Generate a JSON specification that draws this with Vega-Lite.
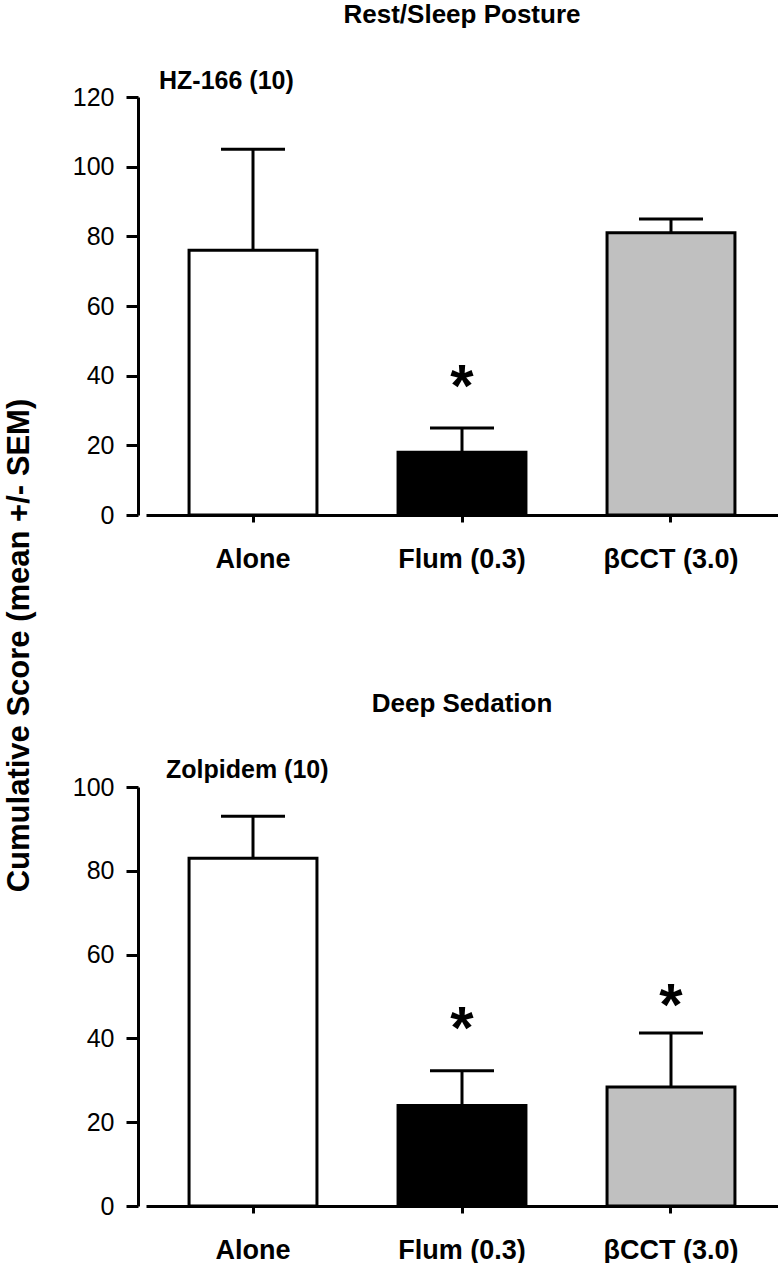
{
  "$schema": "https://vega.github.io/schema/vega-lite/v6.json",
  "background": "white",
  "padding": {"left": 3, "top": 2, "right": 0, "bottom": 0},
  "autosize": {"type": "pad"},
  "bounds": "flush",
  "spacing": 272,
  "config": {
    "font": "Liberation Sans",
    "view": {"stroke": null},
    "axis": {"grid": false, "domainColor": "black", "tickColor": "black", "labelColor": "black", "titleColor": "black", "domainWidth": 3, "tickWidth": 3}
  },
  "datasets": {
    "rest": [
      {"group": "Alone", "mean": 76, "upper": 105},
      {"group": "Flum (0.3)", "mean": 18, "upper": 25},
      {"group": "βCCT (3.0)", "mean": 81, "upper": 85}
    ],
    "restNotes": [
      {"group": "Alone", "label": "HZ-166 (10)", "y": 124.5, "kind": "drug"},
      {"group": "Flum (0.3)", "label": "*", "y": 36.5, "kind": "star"}
    ],
    "deep": [
      {"group": "Alone", "mean": 83, "upper": 93},
      {"group": "Flum (0.3)", "mean": 24, "upper": 32.3},
      {"group": "βCCT (3.0)", "mean": 28.4, "upper": 41.3}
    ],
    "deepNotes": [
      {"group": "Alone", "label": "Zolpidem (10)", "y": 104, "kind": "drug"},
      {"group": "Flum (0.3)", "label": "*", "y": 42, "kind": "star"},
      {"group": "βCCT (3.0)", "label": "*", "y": 47.6, "kind": "star"}
    ]
  },
  "vconcat": [
    {
      "width": 632,
      "height": 418,
      "title": {"text": "Rest/Sleep Posture", "fontSize": 26, "fontWeight": "bold", "anchor": "middle", "baseline": "bottom", "offset": 15, "color": "black"},
      "layer": [
        {
          "data": {"name": "rest"},
          "mark": {"type": "bar", "stroke": "black", "strokeWidth": 3},
          "encoding": {
            "x": {"field": "group", "type": "nominal", "sort": ["Alone", "Flum (0.3)", "βCCT (3.0)"],
              "scale": {"paddingInner": 0.388, "paddingOuter": 0.206},
              "axis": {"title": null, "labelAngle": 0, "labelFontSize": 27, "labelFontWeight": "bold", "tickSize": 7, "labelPadding": 24}},
            "y": {"field": "mean", "type": "quantitative", "scale": {"domain": [0, 120], "nice": false},
              "axis": {"values": [0, 20, 40, 60, 80, 100, 120], "tickSize": 12, "labelFontSize": 25, "labelPadding": 12, "offset": 8,
                "title": "Cumulative Score (mean +/- SEM)", "titleFontSize": 31, "titleFontWeight": "bold", "titleX": -119, "titleY": 548, "titleBaseline": "middle", "titleAlign": "center", "titleAngle": 270}},
            "fill": {"field": "group", "type": "nominal", "scale": {"domain": ["Alone", "Flum (0.3)", "βCCT (3.0)"], "range": ["#ffffff", "#000000", "#c0c0c0"]}, "legend": null}
          }
        },
        {
          "data": {"name": "rest"},
          "mark": {"type": "rule", "stroke": "black", "strokeWidth": 3},
          "encoding": {
            "x": {"field": "group", "type": "nominal", "sort": ["Alone", "Flum (0.3)", "βCCT (3.0)"]},
            "y": {"field": "mean", "type": "quantitative"},
            "y2": {"field": "upper"}
          }
        },
        {
          "data": {"name": "rest"},
          "mark": {"type": "tick", "color": "black", "size": 64, "thickness": 3, "opacity": 1},
          "encoding": {
            "x": {"field": "group", "type": "nominal", "sort": ["Alone", "Flum (0.3)", "βCCT (3.0)"]},
            "y": {"field": "upper", "type": "quantitative"}
          }
        },
        {
          "data": {"name": "restNotes"},
          "transform": [{"filter": "datum.kind === 'drug'"}],
          "mark": {"type": "text", "fontSize": 25, "fontWeight": "bold", "align": "left", "baseline": "middle", "dx": -94, "color": "black"},
          "encoding": {
            "x": {"field": "group", "type": "nominal", "sort": ["Alone", "Flum (0.3)", "βCCT (3.0)"]},
            "y": {"field": "y", "type": "quantitative"},
            "text": {"field": "label"}
          }
        },
        {
          "data": {"name": "restNotes"},
          "transform": [{"filter": "datum.kind === 'star'"}],
          "mark": {"type": "text", "fontSize": 60, "fontWeight": "bold", "align": "center", "baseline": "middle", "color": "black"},
          "encoding": {
            "x": {"field": "group", "type": "nominal", "sort": ["Alone", "Flum (0.3)", "βCCT (3.0)"]},
            "y": {"field": "y", "type": "quantitative"},
            "text": {"field": "label"}
          }
        }
      ]
    },
    {
      "width": 632,
      "height": 419,
      "title": {"text": "Deep Sedation", "fontSize": 26, "fontWeight": "bold", "anchor": "middle", "baseline": "bottom", "offset": 15, "color": "black"},
      "layer": [
        {
          "data": {"name": "deep"},
          "mark": {"type": "bar", "stroke": "black", "strokeWidth": 3},
          "encoding": {
            "x": {"field": "group", "type": "nominal", "sort": ["Alone", "Flum (0.3)", "βCCT (3.0)"],
              "scale": {"paddingInner": 0.388, "paddingOuter": 0.206},
              "axis": {"title": null, "labelAngle": 0, "labelFontSize": 27, "labelFontWeight": "bold", "tickSize": 7, "labelPadding": 24}},
            "y": {"field": "mean", "type": "quantitative", "scale": {"domain": [0, 100], "nice": false},
              "axis": {"values": [0, 20, 40, 60, 80, 100], "tickSize": 12, "labelFontSize": 25, "labelPadding": 12, "offset": 8, "title": null}},
            "fill": {"field": "group", "type": "nominal", "scale": {"domain": ["Alone", "Flum (0.3)", "βCCT (3.0)"], "range": ["#ffffff", "#000000", "#c0c0c0"]}, "legend": null}
          }
        },
        {
          "data": {"name": "deep"},
          "mark": {"type": "rule", "stroke": "black", "strokeWidth": 3},
          "encoding": {
            "x": {"field": "group", "type": "nominal", "sort": ["Alone", "Flum (0.3)", "βCCT (3.0)"]},
            "y": {"field": "mean", "type": "quantitative"},
            "y2": {"field": "upper"}
          }
        },
        {
          "data": {"name": "deep"},
          "mark": {"type": "tick", "color": "black", "size": 64, "thickness": 3, "opacity": 1},
          "encoding": {
            "x": {"field": "group", "type": "nominal", "sort": ["Alone", "Flum (0.3)", "βCCT (3.0)"]},
            "y": {"field": "upper", "type": "quantitative"}
          }
        },
        {
          "data": {"name": "deepNotes"},
          "transform": [{"filter": "datum.kind === 'drug'"}],
          "mark": {"type": "text", "fontSize": 25, "fontWeight": "bold", "align": "left", "baseline": "middle", "dx": -87, "color": "black"},
          "encoding": {
            "x": {"field": "group", "type": "nominal", "sort": ["Alone", "Flum (0.3)", "βCCT (3.0)"]},
            "y": {"field": "y", "type": "quantitative"},
            "text": {"field": "label"}
          }
        },
        {
          "data": {"name": "deepNotes"},
          "transform": [{"filter": "datum.kind === 'star'"}],
          "mark": {"type": "text", "fontSize": 60, "fontWeight": "bold", "align": "center", "baseline": "middle", "color": "black"},
          "encoding": {
            "x": {"field": "group", "type": "nominal", "sort": ["Alone", "Flum (0.3)", "βCCT (3.0)"]},
            "y": {"field": "y", "type": "quantitative"},
            "text": {"field": "label"}
          }
        }
      ]
    }
  ]
}
